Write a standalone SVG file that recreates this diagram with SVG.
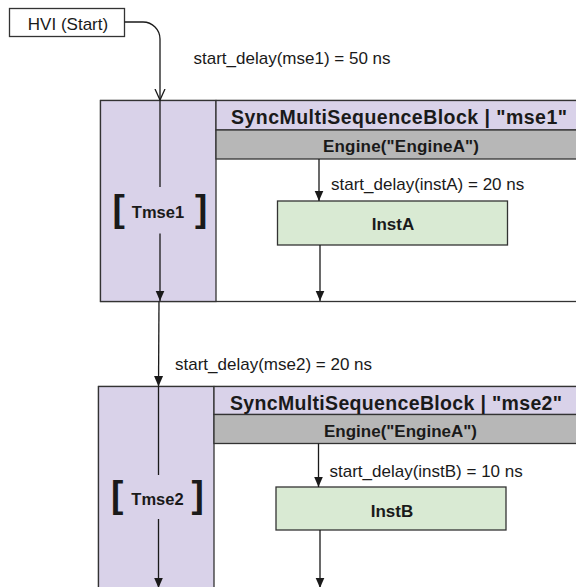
<svg xmlns="http://www.w3.org/2000/svg" width="576" height="587" viewBox="0 0 576 587">
<style>
text{font-family:"Liberation Sans",Arial,sans-serif;fill:#1a1a1a}
.lbl{font-size:17px}
.title{font-size:19.5px;font-weight:bold}
.eng{font-size:17px;font-weight:bold}
.tm{font-size:16.5px;font-weight:bold}
.br{font-size:37px;font-weight:bold}
.inst{font-size:17px;font-weight:bold}
.bd{stroke:#333;stroke-width:1.3}
.pur{fill:#d9d2e9}
.gry{fill:#b7b7b7}
.grn{fill:#d9ead3}
.wht{fill:#fff}
.ln{stroke:#1a1a1a;stroke-width:1.3;fill:none}
</style>
<defs>
<marker id="ah" markerUnits="userSpaceOnUse" markerWidth="11" markerHeight="10" refX="10.5" refY="5" orient="auto">
<path d="M0,0.5 L10.5,5 L0,9.5 z" fill="#1a1a1a"/>
</marker>
<marker id="av" markerUnits="userSpaceOnUse" markerWidth="12" markerHeight="12" refX="11" refY="6" orient="auto">
<path d="M0,1 L11,6 L0,11" fill="none" stroke="#1a1a1a" stroke-width="1.3"/>
</marker>
</defs>
<rect width="576" height="587" fill="#fff"/>

<g id="hvi-start">
<rect x="9.5" y="8.5" width="115" height="28" class="wht bd"/>
<text x="68" y="30" class="lbl" text-anchor="middle">HVI (Start)</text>
</g>

<g id="mse1">
<rect x="100.5" y="100.5" width="480" height="201" class="wht bd"/>
<rect x="100.5" y="100.5" width="115.5" height="201" class="pur bd"/>
<rect x="216" y="100.5" width="364" height="29.5" class="pur bd"/>
<rect x="216" y="130" width="364" height="29" class="gry bd"/>
<text x="231" y="123.5" class="title" textLength="336" lengthAdjust="spacing">SyncMultiSequenceBlock | "mse1"</text>
<text x="323" y="152" class="eng" textLength="156" lengthAdjust="spacing">Engine("EngineA")</text>
<text x="112.5" y="221" class="br">[</text>
<text x="158" y="217.5" class="tm" text-anchor="middle">Tmse1</text>
<text x="195" y="221" class="br">]</text>
</g>

<g id="instA">
<rect x="277.5" y="201" width="230" height="44" class="grn bd"/>
<text x="393" y="230" class="inst" text-anchor="middle">InstA</text>
</g>

<g id="mse2">
<rect x="98.5" y="386.5" width="482" height="210" class="wht bd"/>
<rect x="98.5" y="386.5" width="115.5" height="210" class="pur bd"/>
<rect x="214" y="386.5" width="366" height="28" class="pur bd"/>
<rect x="214" y="414.5" width="366" height="29" class="gry bd"/>
<text x="230" y="409.5" class="title" textLength="332" lengthAdjust="spacing">SyncMultiSequenceBlock | "mse2"</text>
<text x="324" y="437" class="eng" textLength="153" lengthAdjust="spacing">Engine("EngineA")</text>
<text x="111" y="506.5" class="br">[</text>
<text x="157.5" y="504.5" class="tm" text-anchor="middle">Tmse2</text>
<text x="191.5" y="506.5" class="br">]</text>
</g>

<g id="instB">
<rect x="276" y="487" width="230" height="43" class="grn bd"/>
<text x="392" y="517" class="inst" text-anchor="middle">InstB</text>
</g>

<g id="connectors">
<path d="M124.5,22 H143 A17,17 0 0 1 160,39 V100" class="ln" marker-end="url(#av)"/>
<text x="193.5" y="64" class="lbl">start_delay(mse1) = 50 ns</text>
<line x1="160" y1="100.5" x2="160" y2="187" class="ln"/>
<line x1="160" y1="233.5" x2="160" y2="301" class="ln" marker-end="url(#ah)"/>
<line x1="319" y1="159" x2="319" y2="201" class="ln" marker-end="url(#ah)"/>
<text x="331" y="190" class="lbl">start_delay(instA) = 20 ns</text>
<line x1="320" y1="245" x2="320" y2="301" class="ln" marker-end="url(#ah)"/>
<line x1="159" y1="301.5" x2="158.5" y2="386.5" class="ln" marker-end="url(#ah)"/>
<text x="175" y="370" class="lbl">start_delay(mse2) = 20 ns</text>
<line x1="158.5" y1="386.5" x2="158.5" y2="475" class="ln"/>
<line x1="158.5" y1="519" x2="158.5" y2="588" class="ln" marker-end="url(#ah)"/>
<line x1="318.5" y1="443.5" x2="318.5" y2="487" class="ln" marker-end="url(#ah)"/>
<text x="329.5" y="476.5" class="lbl">start_delay(instB) = 10 ns</text>
<line x1="320" y1="530" x2="320" y2="588" class="ln" marker-end="url(#ah)"/>
</g>
</svg>
